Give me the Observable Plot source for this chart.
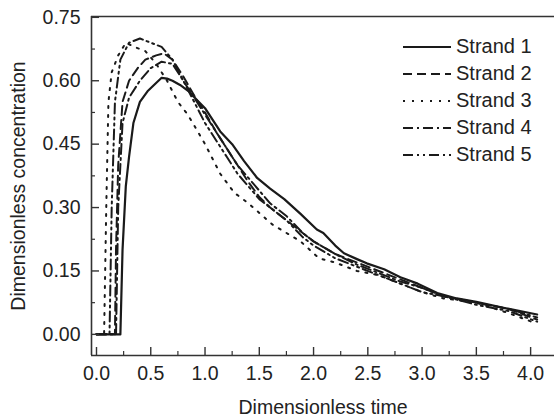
<!DOCTYPE html>
<html>
<head>
<meta charset="utf-8">
<script src="https://cdn.jsdelivr.net/npm/d3@7"></script>
<script src="https://cdn.jsdelivr.net/npm/@observablehq/plot@0.6"></script>
<style>
  body { margin: 0; background: #fff; }
  #wrap { position: relative; width: 554px; height: 419px; font-family: "Liberation Sans", Arial, sans-serif; }
  #legend { position: absolute; left: 401px; top: 33px; font-size: 20px; color: #222; z-index: 2; }
  #legend .row { display: flex; align-items: center; height: 27px; }
  #legend svg { margin-right: 5px; }
</style>
</head>
<body>
<div id="wrap"><div id="legend"></div></div>
<script>
const seriesNames = ["Strand 1", "Strand 2", "Strand 3", "Strand 4", "Strand 5"];
const dashes = [null, "9,5", "2,7", "10,4,2,4", "10,4,2,4,2,4"];

const strand1T = [0, 0.22, 0.24, 0.27, 0.30, 0.34, 0.40, 0.47, 0.53, 0.60, 0.65, 0.70, 0.77, 0.85, 0.93, 1.00, 1.14, 1.25, 1.36, 1.48, 1.60, 1.73, 1.88, 2.03, 2.09, 2.20, 2.28, 2.40, 2.49, 2.65, 2.80, 2.96, 3.14, 3.32, 3.50, 3.75, 4.06];
const strand1V = [0, 0, 0.20, 0.35, 0.42, 0.50, 0.55, 0.575, 0.59, 0.607, 0.605, 0.60, 0.59, 0.575, 0.553, 0.535, 0.48, 0.45, 0.41, 0.37, 0.345, 0.32, 0.285, 0.248, 0.24, 0.21, 0.192, 0.178, 0.168, 0.154, 0.135, 0.12, 0.098, 0.085, 0.077, 0.063, 0.047];

const strand2T = [0, 0.17, 0.18, 0.20, 0.24, 0.30, 0.38, 0.45, 0.55, 0.62, 0.70, 0.80, 0.90, 1.00, 1.10, 1.20, 1.30, 1.40, 1.50, 1.60, 1.75, 1.90, 2.00, 2.20, 2.40, 2.60, 2.80, 3.00, 3.20, 3.50, 3.80, 4.06];
const strand2V = [0, 0, 0.20, 0.40, 0.55, 0.60, 0.63, 0.65, 0.66, 0.665, 0.65, 0.61, 0.565, 0.525, 0.48, 0.44, 0.40, 0.36, 0.325, 0.30, 0.27, 0.24, 0.22, 0.19, 0.17, 0.15, 0.13, 0.11, 0.09, 0.075, 0.06, 0.035];

const strand3T = [0, 0.07, 0.09, 0.11, 0.14, 0.20, 0.27, 0.35, 0.45, 0.55, 0.65, 0.75, 0.84, 0.91, 1.00, 1.14, 1.27, 1.40, 1.51, 1.62, 1.75, 1.88, 2.05, 2.20, 2.40, 2.60, 2.80, 3.00, 3.20, 3.50, 3.80, 4.06];
const strand3V = [0, 0, 0.30, 0.55, 0.62, 0.66, 0.69, 0.68, 0.67, 0.64, 0.60, 0.55, 0.52, 0.49, 0.45, 0.38, 0.335, 0.31, 0.285, 0.26, 0.24, 0.22, 0.18, 0.17, 0.15, 0.14, 0.12, 0.10, 0.085, 0.075, 0.05, 0.025];

const strand4T = [0, 0.18, 0.20, 0.24, 0.30, 0.40, 0.50, 0.60, 0.70, 0.80, 0.90, 1.00, 1.10, 1.20, 1.30, 1.40, 1.50, 1.60, 1.75, 1.90, 2.00, 2.20, 2.40, 2.60, 2.80, 3.00, 3.20, 3.50, 3.80, 4.06];
const strand4V = [0, 0, 0.30, 0.50, 0.56, 0.60, 0.63, 0.645, 0.64, 0.60, 0.56, 0.52, 0.48, 0.44, 0.40, 0.37, 0.34, 0.31, 0.28, 0.24, 0.22, 0.19, 0.165, 0.145, 0.125, 0.11, 0.09, 0.075, 0.06, 0.04];

const strand5T = [0, 0.12, 0.14, 0.17, 0.22, 0.30, 0.40, 0.50, 0.60, 0.70, 0.80, 0.90, 1.00, 1.10, 1.20, 1.30, 1.40, 1.50, 1.60, 1.75, 1.90, 2.00, 2.20, 2.40, 2.60, 2.80, 3.00, 3.20, 3.50, 3.80, 4.06];
const strand5V = [0, 0, 0.30, 0.55, 0.65, 0.69, 0.70, 0.69, 0.68, 0.65, 0.60, 0.55, 0.50, 0.46, 0.42, 0.38, 0.35, 0.32, 0.30, 0.27, 0.23, 0.21, 0.18, 0.16, 0.14, 0.12, 0.10, 0.09, 0.07, 0.055, 0.03];

const xMajorTicks = [0, 0.5, 1.0, 1.5, 2.0, 2.5, 3.0, 3.5, 4.0];
const xMinorTicks = [0.25, 0.75, 1.25, 1.75, 2.25, 2.75, 3.25, 3.75];
const yMajorTicks = [0, 0.15, 0.30, 0.45, 0.60, 0.75];
const yMinorTicks = [0.075, 0.225, 0.375, 0.525, 0.675];
const xDomain = [-0.046, 4.22];
const yDomain = [-0.05, 0.752];
const xTitle = "Dimensionless time";
const yTitle = "Dimensionless concentration";

const allT = [strand1T, strand2T, strand3T, strand4T, strand5T];
const allV = [strand1V, strand2V, strand3V, strand4V, strand5V];
const ink = "#1a1a1a";
const axisInk = "#333";
const fs = 19.5;

const lineMarks = allT.map((ts, i) => {
  const data = ts.map((t, j) => ({t, v: allV[i][j]}));
  return Plot.line(data, {x: "t", y: "v", stroke: ink, strokeWidth: i === 0 ? 2.2 : 2, strokeDasharray: dashes[i], strokeLinejoin: "round"});
});

const chart = Plot.plot({
  width: 554,
  height: 419,
  marginLeft: 91,
  marginRight: 0,
  marginTop: 16,
  marginBottom: 64,
  style: {fontFamily: "Liberation Sans, Arial, sans-serif", fontSize: fs + "px", color: "#222", background: "white"},
  x: {domain: xDomain},
  y: {domain: yDomain},
  marks: [
    ...lineMarks,
    Plot.ruleX([xDomain[0]], {stroke: axisInk, strokeWidth: 1.6}),
    Plot.ruleY([yDomain[0]], {stroke: axisInk, strokeWidth: 1.6}),
    Plot.ruleY([yDomain[1]], {stroke: axisInk, strokeWidth: 1.6}),
    Plot.axisX(xMajorTicks, {anchor: "bottom", tickSize: 8, dy: -8, tickPadding: 11, tickFormat: d => d.toFixed(1), stroke: axisInk, strokeWidth: 1.4, fill: "#222", fontSize: fs, label: null}),
    Plot.axisX(xMinorTicks, {anchor: "bottom", tickSize: 4, dy: -4, tickFormat: () => "", stroke: axisInk, strokeWidth: 1.2, label: null}),
    Plot.axisY(yMajorTicks, {anchor: "left", tickSize: 8, dx: 8, tickPadding: 11, tickFormat: d => d.toFixed(2), stroke: axisInk, strokeWidth: 1.4, fill: "#222", fontSize: fs, label: null}),
    Plot.axisY(yMinorTicks, {anchor: "left", tickSize: 4, dx: 4, tickFormat: () => "", stroke: axisInk, strokeWidth: 1.2, label: null}),
    Plot.text([xTitle], {frameAnchor: "bottom", dy: 52, fill: "#222", fontSize: fs, textAnchor: "middle", lineAnchor: "middle"}),
    Plot.text([yTitle], {frameAnchor: "left", dx: -73, rotate: -90, fill: "#222", fontSize: fs, textAnchor: "middle", lineAnchor: "middle"})
  ]
});

const wrap = document.getElementById("wrap");
wrap.insertBefore(chart, wrap.firstChild);

const legend = document.getElementById("legend");
seriesNames.forEach((name, i) => {
  const row = document.createElement("div");
  row.className = "row";
  const ns = "http://www.w3.org/2000/svg";
  const s = document.createElementNS(ns, "svg");
  s.setAttribute("width", 50); s.setAttribute("height", 10);
  const l = document.createElementNS(ns, "line");
  l.setAttribute("x1", 2); l.setAttribute("x2", 50); l.setAttribute("y1", 5); l.setAttribute("y2", 5);
  l.setAttribute("stroke", ink); l.setAttribute("stroke-width", 2.2);
  if (dashes[i]) l.setAttribute("stroke-dasharray", dashes[i]);
  s.appendChild(l);
  row.appendChild(s);
  const span = document.createElement("span");
  span.textContent = name;
  row.appendChild(span);
  legend.appendChild(row);
});
chart.style.position = "absolute";
chart.style.left = "0"; chart.style.top = "0";
</script>
</body>
</html>
